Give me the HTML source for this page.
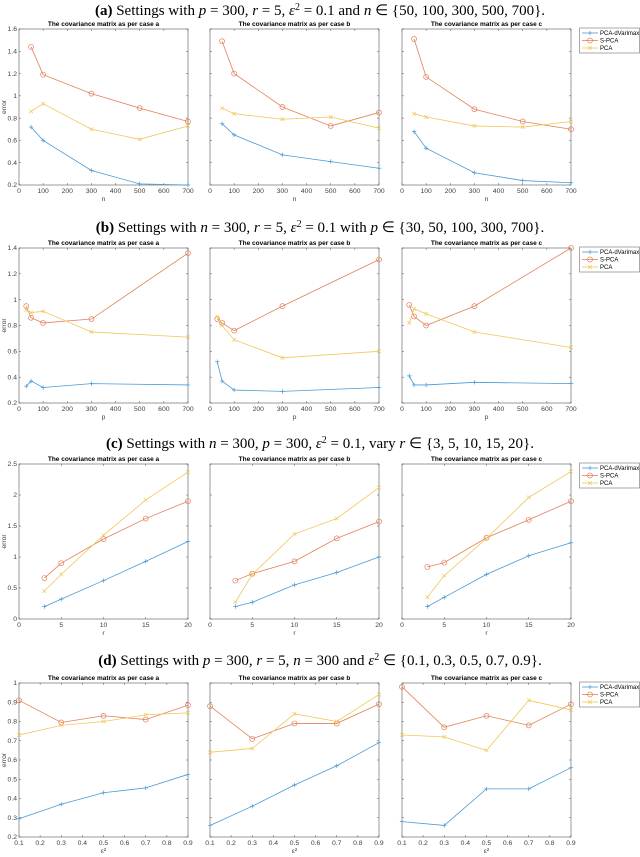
<!DOCTYPE html>
<html><head><meta charset="utf-8"><style>
body{margin:0;background:#fff;width:640px;height:857px;overflow:hidden}
svg{display:block}
.tk{font-family:"Liberation Sans",sans-serif;font-size:6.8px;fill:#404040}
.pt{font-family:"Liberation Sans",sans-serif;font-size:6.5px;font-weight:bold;fill:#000}
.rt{font-family:"Liberation Serif",serif;font-size:15px;fill:#000}
.lg{font-family:"Liberation Sans",sans-serif;font-size:6px;fill:#000}
</style></head><body>
<svg id="fig" width="640" height="857" viewBox="0 0 640 857"></svg>
<script>
// ---- data ----
const seriesNames = ["PCA-dVarimax","S-PCA","PCA"];
const xA = [50,100,300,500,700];
const xB = [30,50,100,300,700];
const xC = [3,5,10,15,20];
const xD = [0.1,0.3,0.5,0.7,0.9];
// row a
const aBlue = [[0.72,0.60,0.33,0.21,0.20],[0.75,0.65,0.47,0.41,0.35],[0.68,0.53,0.31,0.24,0.22]];
const aRed  = [[1.44,1.19,1.02,0.89,0.77],[1.49,1.20,0.90,0.73,0.85],[1.51,1.17,0.88,0.77,0.70]];
const aYel  = [[0.86,0.93,0.70,0.61,0.73],[0.89,0.84,0.79,0.81,0.71],[0.84,0.81,0.73,0.72,0.77]];
// row b
const bBlue = [[0.33,0.37,0.32,0.35,0.34],[0.52,0.37,0.30,0.29,0.32],[0.41,0.34,0.34,0.36,0.35]];
const bRed  = [[0.95,0.86,0.82,0.85,1.36],[0.85,0.82,0.76,0.95,1.31],[0.96,0.87,0.80,0.95,1.40]];
const bYel  = [[0.92,0.90,0.91,0.75,0.71],[0.87,0.80,0.69,0.55,0.60],[0.82,0.93,0.89,0.75,0.63]];
// row c
const cBlue = [[0.20,0.32,0.62,0.93,1.25],[0.20,0.27,0.55,0.75,1.00],[0.20,0.35,0.72,1.02,1.23]];
const cRed  = [[0.66,0.90,1.29,1.62,1.90],[0.62,0.73,0.93,1.30,1.57],[0.84,0.91,1.31,1.60,1.90]];
const cYel  = [[0.45,0.72,1.35,1.92,2.37],[0.27,0.72,1.37,1.62,2.12],[0.35,0.70,1.30,1.96,2.38]];
// row d
const dBlue = [[0.295,0.37,0.43,0.455,0.525],[0.26,0.36,0.47,0.57,0.69],[0.28,0.26,0.45,0.45,0.56]];
const dRed  = [[0.91,0.795,0.83,0.81,0.885],[0.88,0.71,0.79,0.79,0.89],[0.98,0.77,0.83,0.78,0.89]];
const dYel  = [[0.73,0.78,0.80,0.835,0.845],[0.64,0.66,0.84,0.80,0.94],[0.73,0.72,0.65,0.91,0.86]];
// ticks
const xTicksA = [0,100,200,300,400,500,600,700];
const yTicksA = [0.2,0.4,0.6,0.8,1,1.2,1.4,1.6];
const yTicksB = [0.2,0.4,0.6,0.8,1,1.2,1.4];
const xTicksC = [0,5,10,15,20];
const yTicksC = [0,0.5,1,1.5,2,2.5];
const xTicksD = [0.1,0.2,0.3,0.4,0.5,0.6,0.7,0.8,0.9];
const yTicksD = [0.2,0.3,0.4,0.5,0.6,0.7,0.8,0.9,1];
const caseLetters = ["a","b","c"];

const NS="http://www.w3.org/2000/svg";
const fig=document.getElementById('fig');
function el(tag,attrs,parent){const e=document.createElementNS(NS,tag);for(const k in attrs)e.setAttribute(k,attrs[k]);(parent||fig).appendChild(e);return e;}
const colors=["#4a9ad4","#e4805a","#f2c75a"];
const colX=[19,210,402], W=169;

const rows=[
 {key:"a",top:29,bot:185,x:xA,xr:[0,700],xt:xTicksA,yr:[0.2,1.6],yt:yTicksA,s:[aBlue,aRed,aYel],xl:"n",
  title:'<tspan font-weight="bold">(a)</tspan> Settings with <tspan font-style="italic">p</tspan> = 300, <tspan font-style="italic">r</tspan> = 5, <tspan font-style="italic">ε</tspan><tspan dy="-5" font-size="10">2</tspan><tspan dy="5"> = 0.1 and </tspan><tspan font-style="italic">n</tspan> ∈ {50, 100, 300, 500, 700}.',ty:15},
 {key:"b",top:248,bot:403,x:xB,xr:[0,700],xt:xTicksA,yr:[0.2,1.4],yt:yTicksB,s:[bBlue,bRed,bYel],xl:"p",
  title:'<tspan font-weight="bold">(b)</tspan> Settings with <tspan font-style="italic">n</tspan> = 300, <tspan font-style="italic">r</tspan> = 5, <tspan font-style="italic">ε</tspan><tspan dy="-5" font-size="10">2</tspan><tspan dy="5"> = 0.1 with </tspan><tspan font-style="italic">p</tspan> ∈ {30, 50, 100, 300, 700}.',ty:232},
 {key:"c",top:464,bot:619,x:xC,xr:[0,20],xt:xTicksC,yr:[0,2.5],yt:yTicksC,s:[cBlue,cRed,cYel],xl:"r",
  title:'<tspan font-weight="bold">(c)</tspan> Settings with <tspan font-style="italic">n</tspan> = 300, <tspan font-style="italic">p</tspan> = 300, <tspan font-style="italic">ε</tspan><tspan dy="-5" font-size="10">2</tspan><tspan dy="5"> = 0.1, vary </tspan><tspan font-style="italic">r</tspan> ∈ {3, 5, 10, 15, 20}.',ty:448},
 {key:"d",top:683,bot:837,x:xD,xr:[0.1,0.9],xt:xTicksD,yr:[0.2,1],yt:yTicksD,s:[dBlue,dRed,dYel],xl:"ε²",
  title:'<tspan font-weight="bold">(d)</tspan> Settings with <tspan font-style="italic">p</tspan> = 300, <tspan font-style="italic">r</tspan> = 5, <tspan font-style="italic">n</tspan> = 300 and <tspan font-style="italic">ε</tspan><tspan dy="-5" font-size="10">2</tspan><tspan dy="5"> ∈ {0.1, 0.3, 0.5, 0.7, 0.9}.</tspan>',ty:665}
];

function marker(g,type,x,y,c){
  if(type===0){el('path',{d:`M${x-2.2} ${y}H${x+2.2}M${x} ${y-2.2}V${y+2.2}`,stroke:c,'stroke-width':0.7,fill:'none'},g);}
  else if(type===1){el('circle',{cx:x,cy:y,r:2.5,stroke:c,'stroke-width':0.7,fill:'none'},g);}
  else {el('path',{d:`M${x-1.8} ${y-1.8}L${x+1.8} ${y+1.8}M${x-1.8} ${y+1.8}L${x+1.8} ${y-1.8}`,stroke:c,'stroke-width':0.7,fill:'none'},g);}
}
function fmt(v){return String(v);}

rows.forEach(R=>{
  const t=el('text',{x:320,y:R.ty,'text-anchor':'middle',class:'rt'});
  
  
  t.innerHTML=R.title;
  for(let ci=0;ci<3;ci++){
    const L=colX[ci],Rr=L+W;
    const sx=v=>L+(v-R.xr[0])/(R.xr[1]-R.xr[0])*W;
    const sy=v=>R.bot-(v-R.yr[0])/(R.yr[1]-R.yr[0])*(R.bot-R.top);
    const g=el('g',{});
    
    
    el('rect',{x:L,y:R.top,width:W,height:R.bot-R.top,fill:'#fff',stroke:'#555','stroke-width':0.6},g);
    R.xt.forEach(v=>{const x=sx(v);
      el('path',{d:`M${x} ${R.bot}V${R.bot-2}M${x} ${R.top}V${R.top+2}`,stroke:'#555','stroke-width':0.5},g);
      const tx=el('text',{x:x,y:R.bot+8,'text-anchor':'middle',class:'tk'},g);tx.textContent=fmt(v);});
    R.yt.forEach(v=>{const y=sy(v);
      el('path',{d:`M${L} ${y}H${L+2}M${Rr} ${y}H${Rr-2}`,stroke:'#555','stroke-width':0.5},g);
      if(ci===0){const ty=el('text',{x:L-2,y:y+2.2,'text-anchor':'end',class:'tk'},g);ty.textContent=fmt(v);}});
    const pt=el('text',{x:L+W/2,y:R.top-3,'text-anchor':'middle',class:'pt'},g);
    pt.textContent='The covariance matrix as per case '+caseLetters[ci];
    const xl=el('text',{x:L+W/2,y:R.bot+16,'text-anchor':'middle',class:'tk'},g);
    
    
    xl.textContent=R.xl;
    if(ci===0){const yl=el('text',{x:6,y:(R.top+R.bot)/2,'text-anchor':'middle',class:'tk',transform:`rotate(-90 6 ${(R.top+R.bot)/2})`},g);
      
      
      yl.textContent='error';}
    R.s.forEach((ser,si)=>{
      const vals=ser[ci];
      const d=vals.map((v,i)=>(i?'L':'M')+sx(R.x[i])+' '+sy(v)).join('');
      const p=el('path',{d:d,stroke:colors[si],'stroke-width':0.8,fill:'none'},g);
      
      
      vals.forEach((v,i)=>marker(g,si,sx(R.x[i]),sy(v),colors[si]));
    });
  }
  const lg=el('g',{});
  
  
  const ly=R.top-1;
  el('rect',{x:579.5,y:ly,width:60,height:25,fill:'#fff',stroke:'#555','stroke-width':0.5},lg);
  seriesNames.forEach((n,si)=>{
    const yy=ly+5+si*7.5;
    el('path',{d:`M582 ${yy}H598`,stroke:colors[si],'stroke-width':0.8},lg);
    marker(lg,si,590,yy,colors[si]);
    const tt=el('text',{x:600,y:yy+2,class:'lg'},lg);
    
    
    tt.textContent=n;
  });
});
</script>
</body></html>
